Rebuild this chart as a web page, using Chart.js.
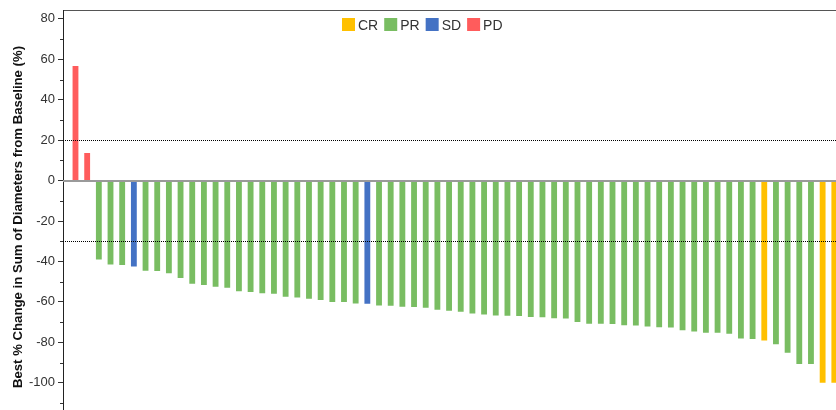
<!DOCTYPE html>
<html>
<head>
<meta charset="utf-8">
<title>Best % Change in Sum of Diameters</title>
<script src="https://cdn.jsdelivr.net/npm/chart.js@4/dist/chart.umd.min.js"></script>
<style>
  html, body { margin: 0; padding: 0; background: #ffffff; overflow: hidden; width: 836px; height: 410px; }
  #wrap { position: relative; width: 844px; height: 434px; }
</style>
</head>
<body>
<div id="wrap"><canvas id="waterfall" width="844" height="434"></canvas></div>
<script>
// Best overall response per patient, ordered as plotted (left to right)
const responses = [
  'PD', 'PD', 'PR', 'PR', 'PR', 'SD', 'PR', 'PR', 'PR', 'PR',
  'PR', 'PR', 'PR', 'PR', 'PR', 'PR', 'PR', 'PR', 'PR', 'PR',
  'PR', 'PR', 'PR', 'PR', 'PR', 'SD', 'PR', 'PR', 'PR', 'PR',
  'PR', 'PR', 'PR', 'PR', 'PR', 'PR', 'PR', 'PR', 'PR', 'PR',
  'PR', 'PR', 'PR', 'PR', 'PR', 'PR', 'PR', 'PR', 'PR', 'PR',
  'PR', 'PR', 'PR', 'PR', 'PR', 'PR', 'PR', 'PR', 'PR', 'CR',
  'PR', 'PR', 'PR', 'PR', 'CR', 'CR'
];

// Best % change in sum of target-lesion diameters from baseline
const bestChange = [
  56.7, 13.6, -39.0, -41.5, -41.8, -42.5, -44.6, -44.7, -45.8, -48.2,
  -51.0, -51.6, -52.5, -53.0, -54.7, -55.1, -55.7, -56.0, -57.4, -57.8,
  -58.5, -59.0, -60.0, -60.1, -60.8, -60.9, -61.8, -61.9, -62.4, -62.5,
  -62.9, -63.9, -64.4, -64.9, -65.7, -66.2, -66.7, -66.8, -67.0, -67.5,
  -67.6, -68.1, -68.2, -69.9, -70.8, -70.8, -70.9, -71.6, -71.7, -72.2,
  -72.5, -72.7, -74.0, -74.7, -75.2, -75.3, -75.8, -78.1, -78.3, -79.1,
  -80.9, -85.1, -90.7, -90.7, -100.0, -100.0
];

// Legend order and colours for the response categories
const responseTypes = ['CR', 'PR', 'SD', 'PD'];
const responseColors = { CR: '#FFC000', PR: '#79BD62', SD: '#4472C4', PD: '#FF5C5C' };

// Dotted threshold lines (progression +20 %, partial response -30 %)
const referenceLines = [20, -30];

const FONT = '"Liberation Sans", Arial, Helvetica, sans-serif';
Chart.defaults.font.family = FONT;

const points = bestChange.map((v, i) => ({ x: i, y: v }));

// Zero line, dotted thresholds, minor ticks and the in-plot legend
const overlay = {
  id: 'overlay',
  afterDatasetsDraw(chart) {
    const { ctx, chartArea: a, scales: { y } } = chart;
    ctx.save();
    // baseline at 0 %
    const y0 = Math.round(y.getPixelForValue(0));
    ctx.strokeStyle = '#9a9a9a';
    ctx.lineWidth = 2;
    ctx.beginPath();
    ctx.moveTo(a.left, y0);
    ctx.lineTo(a.right, y0);
    ctx.stroke();
    // thresholds
    ctx.strokeStyle = '#000000';
    ctx.lineWidth = 1;
    ctx.setLineDash([1, 1]);
    referenceLines.forEach(v => {
      const py = Math.round(y.getPixelForValue(v)) + 0.5;
      ctx.beginPath();
      ctx.moveTo(a.left, py);
      ctx.lineTo(a.right, py);
      ctx.stroke();
    });
    ctx.restore();
  },
  afterDraw(chart) {
    const { ctx, chartArea: a, scales: { y } } = chart;
    ctx.save();
    // minor tick marks between labelled ticks
    ctx.strokeStyle = '#333333';
    ctx.lineWidth = 1;
    y.ticks.forEach(t => {
      if (t.value % 20 !== 0) {
        const py = Math.round(y.getPixelForValue(t.value)) + 0.5;
        ctx.beginPath();
        ctx.moveTo(a.left - 3, py);
        ctx.lineTo(a.left, py);
        ctx.stroke();
      }
    });
    // legend
    ctx.font = '14px ' + FONT;
    ctx.textBaseline = 'middle';
    const box = 13, textGap = 3, itemGap = 6;
    const widths = responseTypes.map(t => box + textGap + ctx.measureText(t).width);
    const total = widths.reduce((s, w) => s + w, 0) + itemGap * (widths.length - 1);
    let x = Math.round(chart.width / 2 - total / 2);
    const yMid = a.top + 14;
    responseTypes.forEach((t, i) => {
      ctx.fillStyle = responseColors[t];
      ctx.fillRect(x, Math.round(yMid - box / 2), box, box);
      ctx.fillStyle = '#333333';
      ctx.fillText(t, x + box + textGap, yMid + 1);
      x += widths[i] + itemGap;
    });
    ctx.restore();
  }
};

new Chart(document.getElementById('waterfall'), {
  type: 'bar',
  data: {
    datasets: [{
      label: 'Best % change',
      data: points,
      backgroundColor: responses.map(r => responseColors[r]),
      borderWidth: 0,
      barPercentage: 0.5,
      categoryPercentage: 1.0
    }]
  },
  options: {
    responsive: false,
    animation: false,
    events: [],
    layout: { padding: { top: -4, right: 0, bottom: 0, left: 0 } },
    plugins: {
      legend: { display: false },
      tooltip: { enabled: false }
    },
    scales: {
      x: {
        type: 'linear',
        position: 'top',
        offset: false,
        min: -1.07,
        max: 65.83,
        grid: { display: false },
        ticks: { display: false },
        border: { display: true, color: '#555555', width: 1 }
      },
      y: {
        min: -120,
        max: 84,
        afterFit(scale) { scale.width = 63; },
        afterBuildTicks(scale) {
          scale.ticks = scale.ticks.filter(t => Number.isInteger(t.value) && t.value % 10 === 0);
        },
        ticks: {
          stepSize: 10,
          includeBounds: false,
          padding: 3,
          color: '#333333',
          font: { size: 13 },
          callback: v => (v % 20 === 0 ? String(v) : '')
        },
        grid: {
          drawOnChartArea: false,
          drawTicks: true,
          tickLength: 5,
          tickColor: c => (c.tick && c.tick.value % 20 === 0 ? '#333333' : 'rgba(0,0,0,0)')
        },
        border: { display: true, color: '#222222', width: 1 },
        title: {
          display: true,
          text: 'Best % Change in Sum of Diameters from Baseline (%)',
          color: '#111111',
          font: { size: 13.2, weight: 'bold' },
          padding: { top: 10, bottom: 0 }
        }
      }
    }
  },
  plugins: [overlay]
});
</script>
</body>
</html>
